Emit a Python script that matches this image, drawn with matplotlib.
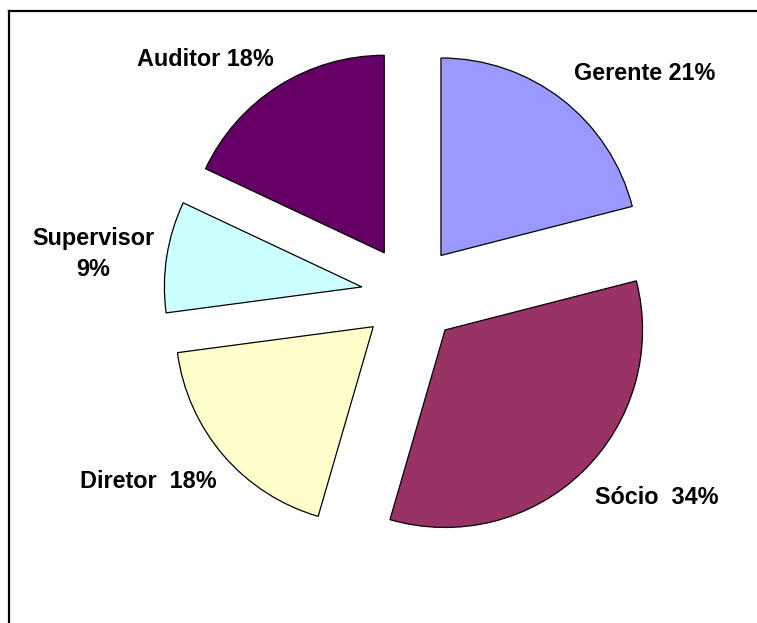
import matplotlib.pyplot as plt
from matplotlib.lines import Line2D

# data (shares; labels as printed on the chart)
categories = ["Gerente", "Sócio", "Diretor", "Supervisor", "Auditor"]
shares = [21.0, 33.5, 18.4, 9.1, 18.0]
labels = ["Gerente 21%", "Sócio  34%", "Diretor  18%", "Supervisor\n9%", "Auditor 18%"]
colors = ["#9999FF", "#993366", "#FFFFCC", "#CCFFFF", "#660066"]

# label spots in pixel coords (x, y from top)
label_xy = [(645, 73), (657, 498), (148, 482), (93, 254), (205, 59)]

W, H = 757, 623
fig = plt.figure(figsize=(W / 100, H / 100), dpi=100)
ax = fig.add_axes([0, 0, 1, 1])

cx, cy, r = 410.7, H - 294.5, 197.5
# explode is in data units here (pixels), not scaled by radius
ax.pie(shares, colors=colors, startangle=90, counterclock=False,
       explode=[0.25 * r] * len(shares), center=(cx, cy), radius=r,
       wedgeprops=dict(edgecolor="black", linewidth=0.9))

for lab, (x, y) in zip(labels, label_xy):
    ax.text(x, H - y, lab, ha="center", va="center", fontsize=16.8,
            fontweight="bold", family="Liberation Sans", linespacing=1.45)

ax.set_xlim(0, W)
ax.set_ylim(0, H)
ax.axis("off")

# chart frame (left and top edges visible)
fig.add_artist(Line2D([8.5 / W, 8.5 / W], [0, 1 - 10.5 / H], color="black", lw=1.6))
fig.add_artist(Line2D([8.5 / W, 1], [1 - 10.5 / H, 1 - 10.5 / H], color="black", lw=1.6))

fig.savefig("out.png", dpi=100)
